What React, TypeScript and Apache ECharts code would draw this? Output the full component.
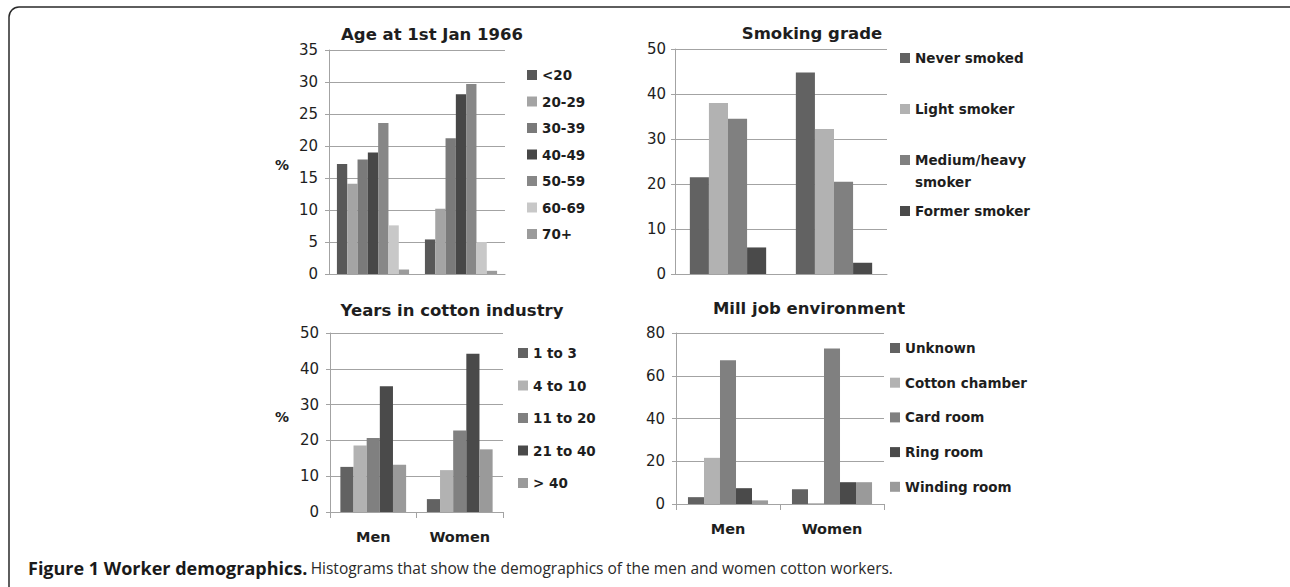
import React, { useEffect, useRef } from "react";
import * as echarts from "echarts";

// ---------- data ----------
const sexes = ["Men", "Women"];

const ageGroups = ["<20", "20-29", "30-39", "40-49", "50-59", "60-69", "70+"];
const ageMen = [17.2, 14.1, 17.9, 19.0, 23.6, 7.6, 0.7];
const ageWomen = [5.4, 10.2, 21.2, 28.1, 29.7, 5.0, 0.5];
const ageTicks = { min: 0, max: 35, interval: 5 };

const smokingGrades = ["Never smoked", "Light smoker", "Medium/heavy smoker", "Former smoker"];
const smokingMen = [21.5, 38.0, 34.5, 5.9];
const smokingWomen = [44.8, 32.2, 20.5, 2.5];
const smokingTicks = { min: 0, max: 50, interval: 10 };

const yearsGroups = ["1 to 3", "4 to 10", "11 to 20", "21 to 40", "> 40"];
const yearsMen = [12.6, 18.6, 20.7, 35.1, 13.2];
const yearsWomen = [3.6, 11.7, 22.8, 44.2, 17.5];
const yearsTicks = { min: 0, max: 50, interval: 10 };

const millJobs = ["Unknown", "Cotton chamber", "Card room", "Ring room", "Winding room"];
const millMen = [3.2, 21.6, 67.2, 7.4, 1.7];
const millWomen = [6.9, 0.4, 72.8, 10.2, 10.2];
const millTicks = { min: 0, max: 80, interval: 20 };

const titles = ["Age at 1st Jan 1966", "Smoking grade", "Years in cotton industry", "Mill job environment"];
const captionBold = "Figure 1 Worker demographics.";
const captionText = "Histograms that show the demographics of the men and women cotton workers.";

// ---------- styling / layout ----------
const FONT = "DejaVu Sans";
const GRID_COLOR = "#a3a3a3";
const TEXT_COLOR = "#1e1e1e";
const WRAP_NAME = "Medium/heavy smoker";

const panels = [
  {
    groups: ageGroups, men: ageMen, women: ageWomen, ticks: ageTicks,
    colors: ["#585858", "#a4a4a4", "#7a7a7a", "#474747", "#878787", "#c8c8c8", "#9b9b9b"],
    grid: { left: 329, top: 50, width: 176, height: 224 },
    gap: "18%", showX: false, pct: { x: 282, y: 165 },
    title: { x: 432, y: 34 },
    legend: { left: 527, first: 75, step: 26.5 },
    labelMargin: 11,
  },
  {
    groups: smokingGrades, men: smokingMen, women: smokingWomen, ticks: smokingTicks,
    colors: ["#626262", "#b2b2b2", "#808080", "#4a4a4a"],
    grid: { left: 675, top: 49, width: 212, height: 225 },
    gap: "28%", showX: false, pct: null,
    title: { x: 812, y: 33 },
    legend: { left: 900, first: 58, step: 51 },
    labelMargin: 9,
  },
  {
    groups: yearsGroups, men: yearsMen, women: yearsWomen, ticks: yearsTicks,
    colors: ["#626262", "#b2b2b2", "#808080", "#4a4a4a", "#9a9a9a"],
    grid: { left: 330, top: 333, width: 173, height: 179 },
    gap: "24%", showX: true, pct: { x: 282, y: 417 },
    title: { x: 452, y: 310 },
    legend: { left: 518, first: 353, step: 32.5 },
    labelMargin: 11,
  },
  {
    groups: millJobs, men: millMen, women: millWomen, ticks: millTicks,
    colors: ["#626262", "#b2b2b2", "#808080", "#4a4a4a", "#9a9a9a"],
    grid: { left: 676, top: 333, width: 208, height: 171 },
    gap: "23%", showX: true, pct: null,
    title: { x: 809, y: 308 },
    legend: { left: 890, first: 348, step: 34.7 },
    labelMargin: 11,
  },
];

function buildOption() {
  const grid: any[] = [];
  const xAxis: any[] = [];
  const yAxis: any[] = [];
  const series: any[] = [];
  const legend: any[] = [];
  const title: any[] = [];
  const graphic: any[] = [];
  const LH = 16;

  panels.forEach((p, i) => {
    grid.push({ ...p.grid, containLabel: false });
    xAxis.push({
      type: "category",
      gridIndex: i,
      data: sexes,
      axisLine: { show: true, lineStyle: { color: GRID_COLOR, width: 1 } },
      axisTick: { show: p.showX, length: 6, lineStyle: { color: GRID_COLOR } },
      axisLabel: {
        show: p.showX, margin: 17, color: TEXT_COLOR,
        fontFamily: FONT, fontSize: 14.5, fontWeight: "bold",
      },
    });
    yAxis.push({
      type: "value",
      gridIndex: i,
      min: p.ticks.min, max: p.ticks.max, interval: p.ticks.interval,
      axisLine: { show: true, lineStyle: { color: GRID_COLOR, width: 1 } },
      axisTick: { show: true, length: 4, lineStyle: { color: GRID_COLOR } },
      splitLine: { show: true, lineStyle: { color: GRID_COLOR, width: 1 } },
      axisLabel: { margin: p.labelMargin, color: TEXT_COLOR, fontFamily: FONT, fontSize: 15 },
    });
    p.groups.forEach((g, k) => {
      series.push({
        type: "bar",
        name: g,
        xAxisIndex: i,
        yAxisIndex: i,
        data: [p.men[k], p.women[k]],
        barGap: "0%",
        barCategoryGap: p.gap,
        itemStyle: { color: p.colors[k] },
        emphasis: { disabled: true },
      });
      const center = p.legend.first + k * p.legend.step;
      const textStyle = {
        color: TEXT_COLOR, fontFamily: FONT, fontSize: 13.5,
        fontWeight: "bold", lineHeight: LH,
      };
      legend.push({
        data: [g],
        left: p.legend.left,
        top: center - LH / 2,
        orient: "vertical",
        icon: "rect",
        itemWidth: 10,
        itemHeight: 10,
        selectedMode: false,
        padding: 0,
        formatter: (n: string) => (n === WRAP_NAME ? n.split(" ")[0] : n),
        textStyle,
      });
      if (g === WRAP_NAME) {
        graphic.push({
          type: "text",
          x: p.legend.left + 15,
          y: center + 22,
          style: {
            text: g.split(" ").slice(1).join(" "),
            fill: TEXT_COLOR,
            font: `bold 13.5px '${FONT}'`,
            textVerticalAlign: "middle",
          },
        });
      }
    });
    title.push({
      text: titles[i],
      left: p.title.x,
      top: p.title.y - 11,
      textAlign: "center",
      padding: 0,
      textStyle: { color: TEXT_COLOR, fontFamily: FONT, fontSize: 16.5, fontWeight: "bold", lineHeight: 22 },
    });
    if (p.pct) {
      graphic.push({
        type: "text",
        x: p.pct.x,
        y: p.pct.y,
        style: {
          text: "%", fill: TEXT_COLOR, font: `bold 14px '${FONT}'`,
          textAlign: "center", textVerticalAlign: "middle",
        },
      });
    }
  });

  graphic.push({
    type: "rect",
    shape: { x: 9, y: 7, width: 1290, height: 600, r: 10 },
    style: { fill: "none", stroke: "#2a2a2a", lineWidth: 1.5 },
  });
  graphic.push({
    type: "text",
    x: 28,
    y: 568,
    style: {
      text: `{b|${captionBold}} {r|${captionText}}`,
      rich: {
        b: { fontFamily: "Open Sans", fontWeight: "bold", fontSize: 18, fill: "#1a1a1a" },
        r: { fontFamily: "Open Sans", fontWeight: "normal", fontSize: 15.5, fill: "#2a2a2a" },
      },
      textVerticalAlign: "middle",
    } as any,
  });

  return {
    animation: false,
    backgroundColor: "#ffffff",
    grid, xAxis, yAxis, series, legend, title, graphic,
  };
}

export default function App() {
  const ref = useRef<HTMLDivElement>(null);
  useEffect(() => {
    if (!ref.current) return;
    const chart = echarts.init(ref.current, undefined, { renderer: "svg" });
    chart.setOption(buildOption() as any);
    return () => chart.dispose();
  }, []);
  return (
    <div
      ref={ref}
      style={{ position: "fixed", left: 0, top: 0, width: 1290, height: 587, background: "#fff" }}
    />
  );
}
